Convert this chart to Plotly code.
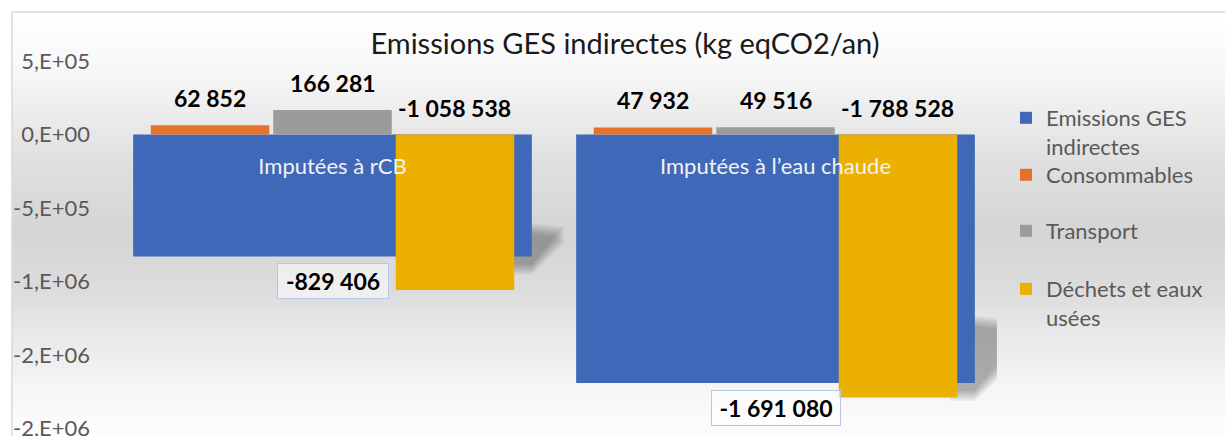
import plotly.graph_objects as go

# ---- data ----
categories = ["Imputées à rCB", "Imputées à l’eau chaude"]
emissions_ges = [-829406, -1691080]
consommables = [62852, 47932]
transport = [166281, 49516]
dechets = [-1058538, -1788528]

legend_labels = ["Emissions GES<br>indirectes", "Consommables", "Transport", "Déchets et eaux<br>usées"]

y_tick_vals = [5e5, 0, -5e5, -1e6, -1.5e6, -2e6]
y_tick_text = ["5,E+05", "0,E+00", "-5,E+05", "-1,E+06", "-2,E+06", "-2,E+06"]

# ---- geometry / style ----
W, H = 1225, 436
ML, MR, MT, MB = 111, 228, 50, 0
PLOT_W = W - ML - MR
PLOT_H = H - MT - MB
X_RANGE = [-0.5, 1.5]
Y_RANGE = [-2051020, 574830]
X_PER_PX = (X_RANGE[1] - X_RANGE[0]) / PLOT_W
Y_PER_PX = (Y_RANGE[1] - Y_RANGE[0]) / PLOT_H

FONT = "Lato, Carlito, sans-serif"
GREY_TXT = "#595959"

BLUE = "#3F69B8"
ORANGE = "#E6722A"
GREY = "#9B9B9B"
GOLD = "#ECB000"


def paper_x(px):
    return (px - ML) / PLOT_W


def paper_y(py):
    return 1 - (py - MT) / PLOT_H


def fmt(v):
    return f"{v:,}".replace(",", " ")


xpos = list(range(len(categories)))
fig = go.Figure()

# ---- background: vertical grey gradient inside the chart frame ----
grad_stops = [(12, 255), (60, 249), (100, 240), (160, 224), (230, 213), (290, 220),
              (340, 234), (390, 246), (436, 253)]


def grey_at(py):
    for (y0, g0), (y1, g1) in zip(grad_stops[:-1], grad_stops[1:]):
        if y0 <= py <= y1:
            t = (py - y0) / (y1 - y0)
            return round(g0 + (g1 - g0) * t)
    return grad_stops[-1][1]


shapes = []
STRIP = 4
py = 12
while py < H:
    g = grey_at(py + STRIP / 2)
    shapes.append(dict(type="rect", xref="paper", yref="paper", layer="below",
                       x0=paper_x(12), x1=paper_x(W + 10),
                       y0=paper_y(py + STRIP + 0.5), y1=paper_y(py),
                       fillcolor=f"rgb({g},{g},{g})", line_width=0))
    py += STRIP

# chart frame
shapes.append(dict(type="rect", xref="paper", yref="paper", layer="below",
                   x0=paper_x(12), x1=paper_x(W + 20), y0=paper_y(H + 20), y1=paper_y(12),
                   line=dict(color="#D9D9D9", width=1.5), fillcolor="rgba(0,0,0,0)"))

# ---- soft perspective shadows behind the wide bars ----
BLUE_W = 0.9
for i, v in enumerate(emissions_ges):
    x_r = i + BLUE_W / 2
    h = -v / Y_PER_PX
    for grow in [10, 8, 6, 4, 2, 0]:
        pts = [(-25, -0.27 * h + grow), (0, -0.27 * h + grow), (32 - grow, -0.27 * h + 3 + grow),
               (32 - grow, -13 - grow * 0.5), (0, 18 - grow), (-25, 18 - grow)]
        path = "M " + " L ".join(
            f"{x_r + dx * X_PER_PX},{v - dy * Y_PER_PX}" for dx, dy in pts) + " Z"
        shapes.append(dict(type="path", xref="x", yref="y", layer="below", path=path,
                           fillcolor="rgba(0,0,0,0.055)", line_width=0))

# ---- bars ----
fig.add_bar(x=xpos, y=emissions_ges, name=legend_labels[0], width=BLUE_W, offset=-BLUE_W / 2,
            marker=dict(color=BLUE, line_width=0), legend="legend")

SUB_W, SUB_GAP = 0.2675, 0.009
start = -(3 * SUB_W + 2 * SUB_GAP) / 2
sub_series = [(consommables, legend_labels[1], ORANGE, "legend2"),
              (transport, legend_labels[2], GREY, "legend3"),
              (dechets, legend_labels[3], GOLD, "legend4")]

annotations = []
for k, (vals, name, color, lg) in enumerate(sub_series):
    off = start + k * (SUB_W + SUB_GAP)
    fig.add_bar(x=xpos, y=vals, name=name, width=SUB_W, offset=off,
                marker=dict(color=color, line_width=0), legend=lg)
    for i, v in enumerate(vals):
        annotations.append(dict(x=i + off + SUB_W / 2, y=max(v, 0), xref="x", yref="y",
                                text=f"<b>{fmt(v)}</b>", showarrow=False,
                                yanchor="bottom", yshift=11,
                                font=dict(family=FONT, size=23, color="#000000")))

# boxed labels under the wide bars
for i, v in enumerate(emissions_ges):
    annotations.append(dict(x=i, y=v, xref="x", yref="y", text=f"<b>{fmt(v)}</b>",
                            showarrow=False, yanchor="top", yshift=-7,
                            font=dict(family=FONT, size=23, color="#000000"),
                            bordercolor="#B4C7E7", borderwidth=1, borderpad=3,
                            bgcolor="rgba(255,255,255,0.55)", width=104 if i == 0 else 122))

fig.update_layout(
    width=W, height=H,
    margin=dict(l=ML, r=MR, t=MT, b=MB, pad=0, autoexpand=False),
    paper_bgcolor="#FFFFFF", plot_bgcolor="rgba(0,0,0,0)",
    barmode="overlay",
    title=dict(text="Emissions GES indirectes (kg eqCO2/an)", xref="container", yref="container",
               x=625 / W, y=1 - 44 / H, xanchor="center", yanchor="middle",
               font=dict(family=FONT, size=29, color="#1A1A1A")),
    xaxis=dict(range=X_RANGE, tickvals=xpos, ticktext=categories, anchor="free",
               position=(0 - Y_RANGE[0]) / (Y_RANGE[1] - Y_RANGE[0]),
               showline=False, showgrid=False, zeroline=False, ticks="",
               ticklabelstandoff=16, automargin=False,
               tickfont=dict(family=FONT, size=22, color="#F2F2F2"), fixedrange=True),
    yaxis=dict(range=Y_RANGE, tickvals=y_tick_vals, ticktext=y_tick_text,
               showline=False, showgrid=False, zeroline=False, ticks="",
               ticklabelstandoff=20, ticklabeloverflow="allow", automargin=False,
               tickfont=dict(family=FONT, size=22, color=GREY_TXT), fixedrange=True),
    shapes=shapes,
    annotations=annotations,
    showlegend=True,
)

legend_tops = [97, 154, 210, 268]
for name, top in zip(["legend", "legend2", "legend3", "legend4"], legend_tops):
    fig.update_layout({name: dict(x=paper_x(1006), y=paper_y(top), xanchor="left", yanchor="top",
                                  bgcolor="rgba(0,0,0,0)", valign="top", itemclick=False,
                                  itemdoubleclick=False,
                                  font=dict(family=FONT, size=22, color=GREY_TXT))})

fig.write_html("out.html")
